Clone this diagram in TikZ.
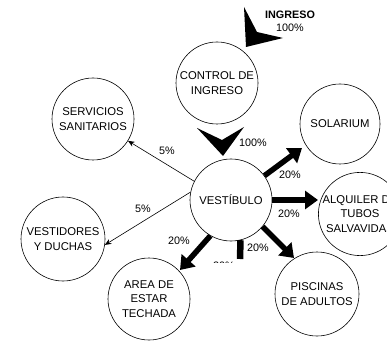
\documentclass[tikz,border=0pt]{standalone}
\usepackage{fontspec}
\setmainfont{Liberation Sans}
\usetikzlibrary{arrows.meta}
\begin{document}
\begin{tikzpicture}[x=1pt,y=-1pt,
  area/.style={circle,draw,line width=0.6pt,minimum size=82pt,inner sep=0pt,align=center,
    font=\fontsize{11.3}{14.5}\selectfont},
  lbl/.style={font=\fontsize{10.8}{12}\selectfont,inner sep=0pt},
  thin/.style={line width=0.6pt,-{Stealth[length=6.5pt,width=5.5pt]}},
  thick/.style={line width=5.5pt,-{Triangle[length=13pt,width=18pt]}},
  dart/.style={fill=black}]
\useasboundingbox (0,0) rectangle (387,344);
\node[area] (ctrl) at (217,83) {CONTROL DE\\INGRESO};
\node[area] (vest) at (231,200) {VESTÍBULO};
\node[area] (serv) at (93,119) {SERVICIOS\\SANITARIOS};
\node[area,minimum size=84pt] (vestd) at (63,239) {VESTIDORES\\Y DUCHAS};
\node[area] (area) at (149,299) {AREA DE\\ESTAR\\TECHADA};
\node[area,minimum size=84pt] (pisc) at (317,294) {PISCINAS\\DE ADULTOS};
\node[area] (alq) at (360,214) {ALQUILER DE\\TUBOS\\SALVAVIDAS};
\node[area,minimum size=80pt] (sol) at (340,124) {SOLARIUM};
% ingreso
\node[lbl,font=\bfseries\fontsize{10.8}{12}\selectfont] (ing) at (290,15) {INGRESO};
\node[lbl] (ingp) at (290,28) {100\%};
\fill[dart] (244,7) -- (257,32) -- (283,38) -- (246,47) -- cycle;
% control -> vestibulo dart
\fill[dart] (197,128) -- (222,140) -- (244,127) -- (223,156) -- cycle;
\node[lbl] (p100) at (253,143) {100\%};
% thin arrows
\draw[thin] (vest.153) -- (serv.-32);
\node[lbl] at (167,151) {5\%};
\draw[thin] (vest.169) -- (vestd.-8);
\node[lbl] at (143,209) {5\%};
% thick arrows
\coordinate (solend) at (302,148);
\draw[thick] (vest.36) -- (solend);
\node[lbl] at (290,175) {20\%};
\coordinate (alqend) at (318,200);
\draw[thick] (vest.east) -- (alqend);
\node[lbl] at (289,214) {20\%};
\coordinate (piscend) at (294,258);
\draw[thick] (vest.-40) -- (piscend);
\node[lbl] at (258,248) {20\%};
\coordinate (areaend) at (180,270);
\draw[thick] (vest.-120) -- (areaend);
\node[lbl] at (179,241) {20\%};
\coordinate (barend) at (240.2,259);
\draw[line width=6.5pt] (vest.-77) -- (barend);
\begin{scope}
\clip (200,240) rectangle (236,262.5);
\node[lbl] at (224,266) {20\%};
\end{scope}
\end{tikzpicture}
\end{document}
